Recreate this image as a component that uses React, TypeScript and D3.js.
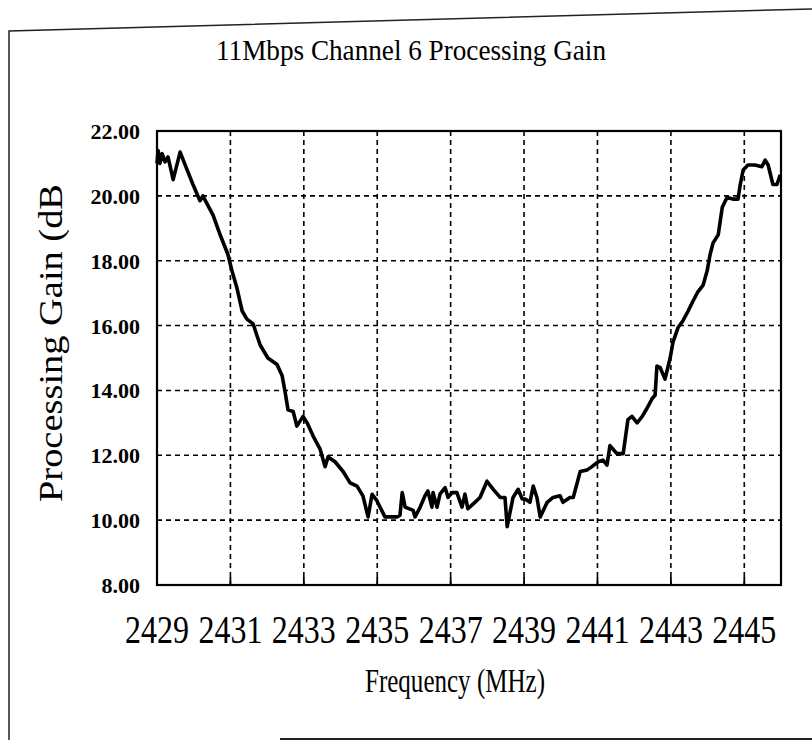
import React, { useEffect, useRef } from 'react';
import * as d3 from 'd3';

const freq = [
  2429.0, 2429.03, 2429.08, 2429.14, 2429.22, 2429.3, 2429.44, 2429.63, 2429.82, 2429.98,
  2430.17, 2430.25, 2430.39, 2430.53, 2430.72, 2430.93, 2431.04, 2431.18, 2431.32, 2431.45,
  2431.62, 2431.72, 2431.81, 2432.02, 2432.27, 2432.41, 2432.49, 2432.57, 2432.71, 2432.81,
  2432.98, 2433.09, 2433.25, 2433.44, 2433.58, 2433.66, 2433.85, 2434.07, 2434.26, 2434.45,
  2434.61, 2434.75, 2434.86, 2434.99, 2435.21, 2435.54, 2435.62, 2435.68, 2435.76, 2435.98,
  2436.03, 2436.17, 2436.3, 2436.38, 2436.49, 2436.52, 2436.63, 2436.71, 2436.85, 2436.93,
  2437.04, 2437.17, 2437.31, 2437.39, 2437.47, 2437.66, 2437.8, 2437.99, 2438.16, 2438.35,
  2438.48, 2438.54, 2438.7, 2438.84, 2438.95, 2439.03, 2439.16, 2439.25, 2439.35, 2439.44,
  2439.63, 2439.79, 2439.98, 2440.06, 2440.25, 2440.34, 2440.53, 2440.72, 2440.85, 2441.02,
  2441.15, 2441.26, 2441.34, 2441.53, 2441.7, 2441.83, 2441.94, 2442.08, 2442.22, 2442.35,
  2442.49, 2442.57, 2442.62, 2442.71, 2442.84, 2442.98, 2443.06, 2443.2, 2443.33, 2443.47,
  2443.6, 2443.74, 2443.88, 2443.99, 2444.07, 2444.15, 2444.29, 2444.4, 2444.53, 2444.69,
  2444.83, 2444.89, 2444.97, 2445.1, 2445.29, 2445.48, 2445.57, 2445.65, 2445.78, 2445.89,
  2445.98,
];

const gain = [
  21.0, 21.4, 21.0, 21.3, 21.05, 21.2, 20.5, 21.35, 20.8, 20.35,
  19.85, 20.0, 19.7, 19.4, 18.8, 18.2, 17.7, 17.15, 16.45, 16.2,
  16.05, 15.7, 15.4, 15.0, 14.8, 14.45, 13.95, 13.4, 13.35, 12.9,
  13.2, 13.0, 12.6, 12.2, 11.65, 11.95, 11.8, 11.5, 11.15, 11.05,
  10.75, 10.1, 10.8, 10.6, 10.1, 10.1, 10.15, 10.85, 10.4, 10.3,
  10.1, 10.4, 10.75, 10.9, 10.4, 10.85, 10.4, 10.8, 11.0, 10.7,
  10.85, 10.85, 10.4, 10.8, 10.35, 10.55, 10.7, 11.2, 10.95, 10.7,
  10.7, 9.8, 10.7, 10.95, 10.65, 10.65, 10.55, 11.05, 10.7, 10.1,
  10.55, 10.7, 10.75, 10.55, 10.7, 10.7, 11.5, 11.55, 11.65, 11.8,
  11.85, 11.7, 12.3, 12.05, 12.05, 13.1, 13.2, 13.0, 13.2, 13.45,
  13.75, 13.85, 14.75, 14.7, 14.35, 15.0, 15.5, 15.95, 16.15, 16.45,
  16.75, 17.05, 17.25, 17.7, 18.2, 18.55, 18.8, 19.65, 19.95, 19.9,
  19.9, 20.35, 20.8, 20.95, 20.95, 20.9, 21.1, 20.95, 20.35, 20.35,
  20.65,
];

const xTicks = [2429, 2431, 2433, 2435, 2437, 2439, 2441, 2443, 2445];
const yTicks = [8, 10, 12, 14, 16, 18, 20, 22];

const title = '11Mbps Channel 6 Processing Gain';
const xTitle = 'Frequency (MHz)';
const yTitle = 'Processing Gain (dB';

const App = () => {
  const ref = useRef<SVGSVGElement>(null);

  useEffect(() => {
    const svg = d3.select(ref.current);
    svg.selectAll('*').remove();

    const left = 157;
    const right = 781;
    const top = 131;
    const bottom = 585;
    const font = '"Liberation Serif", serif';

    const x = d3.scaleLinear().domain([2429, 2446]).range([left, right]);
    const y = d3.scaleLinear().domain([8, 22]).range([bottom, top]);

    // scanned outer frame
    svg.append('path')
      .attr('d', 'M812,9 L9,31 L9,740')
      .attr('fill', 'none')
      .attr('stroke', '#222')
      .attr('stroke-width', 1.5);
    svg.append('line')
      .attr('x1', 280).attr('x2', 812)
      .attr('y1', 739).attr('y2', 739)
      .attr('stroke', '#222')
      .attr('stroke-width', 2);

    // grid
    svg.append('g')
      .selectAll('line')
      .data(yTicks.filter(d => d > 8 && d < 22))
      .join('line')
      .attr('x1', left).attr('x2', right)
      .attr('y1', d => y(d)).attr('y2', d => y(d))
      .attr('stroke', '#000')
      .attr('stroke-width', 1.6)
      .attr('stroke-dasharray', '5,4');
    svg.append('g')
      .selectAll('line')
      .data(xTicks.filter(d => d > 2429))
      .join('line')
      .attr('x1', d => x(d)).attr('x2', d => x(d))
      .attr('y1', top).attr('y2', bottom)
      .attr('stroke', '#000')
      .attr('stroke-width', 1.6)
      .attr('stroke-dasharray', '5,4');

    // tick marks on bottom edge
    svg.append('g')
      .selectAll('line')
      .data(xTicks.filter(d => d > 2429))
      .join('line')
      .attr('x1', d => x(d)).attr('x2', d => x(d))
      .attr('y1', bottom).attr('y2', bottom - 8)
      .attr('stroke', '#000')
      .attr('stroke-width', 1.8);

    // plot frame
    svg.append('rect')
      .attr('x', left).attr('y', top)
      .attr('width', right - left).attr('height', bottom - top)
      .attr('fill', 'none')
      .attr('stroke', '#000')
      .attr('stroke-width', 2.2);

    const line = d3.line<number>()
      .x((d, i) => x(freq[i]))
      .y(d => y(d));

    svg.append('path')
      .datum(gain)
      .attr('fill', 'none')
      .attr('stroke', '#000')
      .attr('stroke-width', 3.6)
      .attr('stroke-linejoin', 'round')
      .attr('d', line);

    // y tick labels
    svg.append('g')
      .selectAll('text')
      .data(yTicks)
      .join('text')
      .attr('x', 140)
      .attr('y', d => y(d) + 8)
      .attr('text-anchor', 'end')
      .attr('font-family', font)
      .attr('font-weight', 'bold')
      .attr('font-size', 22)
      .text(d => d.toFixed(2));

    // x tick labels
    svg.append('g')
      .selectAll('text')
      .data(xTicks)
      .join('text')
      .attr('x', d => x(d) - 32)
      .attr('y', 643)
      .attr('font-family', font)
      .attr('font-size', 40)
      .attr('textLength', 64)
      .attr('lengthAdjust', 'spacingAndGlyphs')
      .text(d => d);

    svg.append('text')
      .attr('x', 216)
      .attr('y', 60)
      .attr('font-family', font)
      .attr('font-size', 30)
      .attr('textLength', 390)
      .attr('lengthAdjust', 'spacingAndGlyphs')
      .text(title);

    svg.append('text')
      .attr('x', 365)
      .attr('y', 692)
      .attr('font-family', font)
      .attr('font-size', 33)
      .attr('textLength', 180)
      .attr('lengthAdjust', 'spacingAndGlyphs')
      .text(xTitle);

    svg.append('text')
      .attr('transform', 'translate(62,502) rotate(-90)')
      .attr('font-family', font)
      .attr('font-size', 33)
      .attr('textLength', 318)
      .attr('lengthAdjust', 'spacingAndGlyphs')
      .text(yTitle);
  }, []);

  return (
    <svg ref={ref} width={812} height={744}
      style={{ position: 'absolute', left: 0, top: 0, background: '#fff' }} />
  );
};

export default App;
